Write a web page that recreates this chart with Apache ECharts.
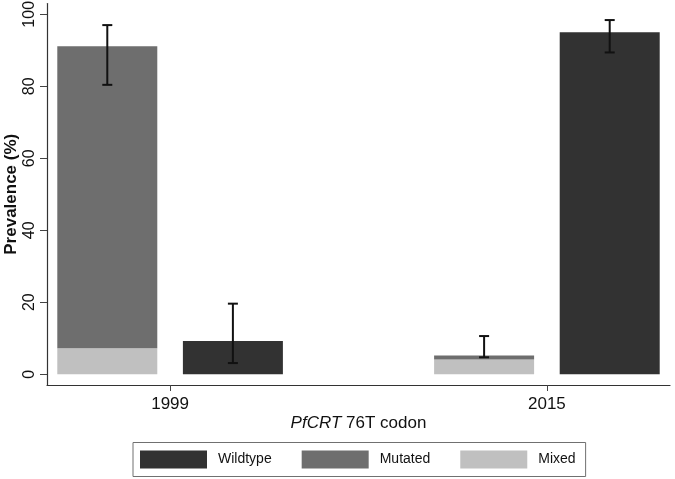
<!DOCTYPE html>
<html>
<head>
<meta charset="utf-8">
<script src="https://cdn.jsdelivr.net/npm/echarts@6/dist/echarts.min.js"></script>
<style>
html,body{margin:0;padding:0;background:#fff;}
#chart{width:675px;height:479px;}
</style>
</head>
<body>
<div id="chart"></div>
<script>
const categories = ['1999', '2015'];
const wildtype = [9.2, 95.0];
const mutated = [83.9, 1.1];
const mixed = [7.2, 4.1];
const wildLow = [3.1, 89.4];
const wildHigh = [19.6, 98.4];
const mutLow = [80.4, 4.7];
const mutHigh = [97.0, 10.6];
const yTicks = [0, 20, 40, 60, 80, 100];

const FONT = 'Liberation Sans, Arial, Helvetica, sans-serif';
const C_WILD = '#323232', C_MUT = '#6e6e6e', C_MIX = '#c0c0c0';

// layout: group centre at 1 + 3*i, bars at -0.5 / +0.5
const groupX = categories.map((c, i) => 1 + 3 * i);
const posA = groupX.map(g => g - 0.5);
const posB = groupX.map(g => g + 0.5);

// data stored as [value, position] so the value dimension is the stacked one
const mixedData = mixed.map((v, i) => [v, posA[i]]);
const mutatedData = mutated.map((v, i) => [v, posA[i]]);
const wildData = wildtype.map((v, i) => [v, posB[i]]);
const errData = [];
categories.forEach((c, i) => {
  errData.push([posA[i], mutLow[i], mutHigh[i]]);
  errData.push([posB[i], wildLow[i], wildHigh[i]]);
});

const chart = echarts.init(document.getElementById('chart'), null, {renderer: 'canvas'});
chart.setOption({
  animation: false,
  backgroundColor: '#fff',
  grid: {left: 47, right: 5, top: 3.5, bottom: 94, containLabel: false, outerBoundsMode: 'none'},
  xAxis: {
    type: 'value', min: 0.02, max: 4.98,
    splitLine: {show: false},
    axisLine: {show: true, onZero: false, lineStyle: {color: '#333', width: 1.2}},
    axisTick: {show: true, customValues: groupX, length: 6, lineStyle: {color: '#444', width: 1}},
    axisLabel: {
      customValues: groupX, margin: 11,
      formatter: v => categories[Math.round((v - 1) / 3)] || '',
      fontFamily: FONT, fontSize: 17, color: '#111'
    },
    name: '{i|PfCRT} 76T codon',
    nameLocation: 'middle', nameGap: 30, nameMoveOverlap: false,
    nameTextStyle: {
      fontFamily: FONT, fontSize: 17, color: '#111',
      rich: {i: {fontStyle: 'italic', fontFamily: FONT, fontSize: 17, color: '#111'}}
    }
  },
  yAxis: {
    type: 'value', min: -3, max: 103,
    splitLine: {show: false},
    axisLine: {show: true, onZero: false, lineStyle: {color: '#333', width: 1.2}},
    axisTick: {show: true, customValues: yTicks, length: 7, lineStyle: {color: '#444', width: 1}},
    axisLabel: {
      customValues: yTicks, rotate: 90, margin: 9,
      fontFamily: FONT, fontSize: 16, color: '#111'
    },
    name: 'Prevalence (%)',
    nameLocation: 'middle', nameGap: 27, nameMoveOverlap: false,
    nameTextStyle: {fontFamily: FONT, fontSize: 17, fontWeight: 'bold', color: '#111'}
  },
  legend: {
    show: true,
    data: ['Wildtype', 'Mutated', 'Mixed'],
    left: 133, top: 442.5,
    orient: 'horizontal',
    icon: 'rect',
    itemWidth: 67, itemHeight: 18, itemGap: 30,
    padding: [8, 10, 8, 7],
    borderColor: '#707070', borderWidth: 1,
    textStyle: {fontFamily: FONT, fontSize: 14, color: '#111', padding: [0, 0, 0, 6]},
    selectedMode: false
  },
  series: [
    {name: 'Mixed', type: 'bar', stack: 'a', data: mixedData, encode: {x: 1, y: 0},
     barWidth: 100, barGap: '-100%', itemStyle: {color: C_MIX}},
    {name: 'Mutated', type: 'bar', stack: 'a', data: mutatedData, encode: {x: 1, y: 0},
     barWidth: 100, barGap: '-100%', itemStyle: {color: C_MUT}},
    {name: 'Wildtype', type: 'bar', data: wildData, encode: {x: 1, y: 0},
     barWidth: 100, barGap: '-100%', itemStyle: {color: C_WILD}},
    {
      name: 'err', type: 'custom', data: errData, z: 10,
      encode: {x: 0, y: [1, 2]},
      renderItem: function (params, api) {
        const x = api.value(0);
        const lo = api.coord([x, api.value(1)]);
        const hi = api.coord([x, api.value(2)]);
        const hw = 5;
        const st = {stroke: '#111', lineWidth: 2};
        return {
          type: 'group',
          children: [
            {type: 'line', shape: {x1: lo[0], y1: lo[1], x2: hi[0], y2: hi[1]}, style: st},
            {type: 'line', shape: {x1: lo[0] - hw, y1: lo[1], x2: lo[0] + hw, y2: lo[1]}, style: st},
            {type: 'line', shape: {x1: hi[0] - hw, y1: hi[1], x2: hi[0] + hw, y2: hi[1]}, style: st}
          ]
        };
      }
    }
  ]
});
</script>
</body>
</html>
